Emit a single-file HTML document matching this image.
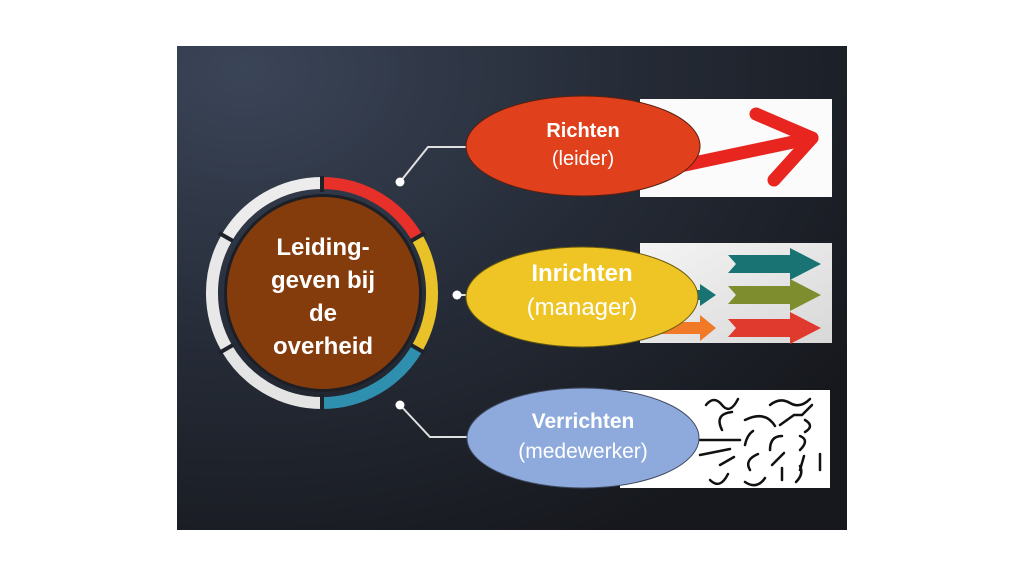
<!DOCTYPE html>
<html><head><meta charset="utf-8"><style>
html,body{margin:0;padding:0;background:#fff;}
body{width:1024px;height:576px;overflow:hidden;font-family:"Liberation Sans",sans-serif;}
</style></head><body>
<svg width="1024" height="576" viewBox="0 0 1024 576" xmlns="http://www.w3.org/2000/svg">
<defs>
<radialGradient id="bg" cx="0.1" cy="0.05" r="1.1">
<stop offset="0" stop-color="#3b4558"/><stop offset="0.5" stop-color="#262c38"/><stop offset="1" stop-color="#16181d"/>
</radialGradient>
<linearGradient id="g2" x1="0" y1="0" x2="1" y2="1"><stop offset="0" stop-color="#f4f4f4"/><stop offset="1" stop-color="#d8d8d8"/></linearGradient>
</defs>
<rect x="177" y="46" width="670" height="484" fill="url(#bg)"/>
<!-- ring -->
<g fill="none" stroke-width="12">
<path d="M322 183 A110 110 0 0 1 417.3 238" stroke="#e8302a"/>
<path d="M417.3 238 A110 110 0 0 1 417.3 348" stroke="#e9c22a"/>
<path d="M417.3 348 A110 110 0 0 1 322 403" stroke="#2f8fae"/>
<path d="M322 403 A110 110 0 0 1 226.7 348" stroke="#e4e4e4"/>
<path d="M226.7 348 A110 110 0 0 1 226.7 238" stroke="#e8e8e8"/>
<path d="M226.7 238 A110 110 0 0 1 322 183" stroke="#ececec"/>
</g>
<g stroke="#1e222b" stroke-width="4">
<line x1="322" y1="176" x2="322" y2="192"/><line x1="322" y1="394" x2="322" y2="410"/>
<line x1="411" y1="241" x2="425" y2="233"/><line x1="411" y1="345" x2="425" y2="353"/>
<line x1="233" y1="241" x2="219" y2="233"/><line x1="233" y1="345" x2="219" y2="353"/>
</g>
<circle cx="323" cy="293" r="99" fill="#1c1f26"/>
<circle cx="323" cy="293" r="96" fill="#843c0c"/>
<g fill="#fff" font-weight="bold" font-size="24" text-anchor="middle">
<text x="323" y="255">Leiding-</text>
<text x="323" y="288">geven bij</text>
<text x="323" y="321">de</text>
<text x="323" y="354">overheid</text>
</g>
<!-- connectors -->
<g stroke="#e0e0e0" stroke-width="2" fill="none">
<polyline points="400,182 428,147 470,147"/>
<line x1="457" y1="295" x2="470" y2="295"/>
<polyline points="400,405 430,437 470,437"/>
</g>
<g fill="#fff"><circle cx="400" cy="182" r="4.5"/><circle cx="457" cy="295" r="4.5"/><circle cx="400" cy="405" r="4.5"/></g>
<!-- panels -->
<rect x="640" y="99" width="192" height="98" fill="#fbfbfb"/>
<path d="M680 166 L812 138" stroke="#e8261f" stroke-width="13" stroke-linecap="round"/>
<path d="M756 114 L812 138 L774 180" stroke="#e8261f" stroke-width="13" fill="none" stroke-linecap="round" stroke-linejoin="round"/>
<rect x="640" y="243" width="192" height="100" fill="url(#g2)"/>
<g>
<polygon points="728,255 790,255 790,248 821,264 790,280 790,273 728,273 736,264" fill="#1a7373"/>
<polygon points="728,286 790,286 790,279 821,295 790,311 790,304 728,304 736,295" fill="#7e8d2e"/>
<polygon points="728,319 790,319 790,312 821,328 790,344 790,337 728,337 736,328" fill="#e03a2e"/>
<polygon points="680,290 700,290 700,284 716,295 700,306 700,300 680,300" fill="#1a7373"/>
<polygon points="660,322 700,322 700,315 716,328 700,341 700,334 660,334" fill="#f07a25"/>
</g>
<rect x="620" y="390" width="210" height="98" fill="#fff"/>
<g stroke="#111" stroke-width="2.5" fill="none" stroke-linecap="round">
<path d="M706 405 q8 -10 16 0 t16 -6"/><path d="M770 405 q10 -8 20 -2 t20 -4"/>
<path d="M722 430 q-8 -16 10 -18"/><path d="M745 420 q20 -10 30 6"/>
<path d="M780 425 l14 -10 l8 0 l10 -10"/><path d="M805 420 q10 6 0 12"/>
<path d="M745 445 q2 -10 8 -14"/><path d="M770 450 q0 -14 12 -14"/><path d="M800 450 q10 -10 0 -14"/>
<path d="M720 465 l14 -8"/><path d="M750 470 q-6 -10 8 -16"/><path d="M772 465 l12 -12"/>
<path d="M800 470 l4 -14"/><path d="M820 470 l0 -16"/>
<path d="M710 480 q10 10 18 -6"/><path d="M745 482 q12 8 20 -4"/><path d="M782 480 l0 -12"/><path d="M796 482 q8 -8 4 -16"/>
<path d="M700 440 l40 0"/><path d="M700 455 l30 -6"/>
</g>
<!-- ellipses -->
<ellipse cx="583" cy="146" rx="117" ry="50" fill="#e0401c" stroke="#5a2010" stroke-width="1"/>
<ellipse cx="582" cy="297" rx="116" ry="50" fill="#eec524" stroke="#6a5a10" stroke-width="1"/>
<ellipse cx="583" cy="438" rx="116" ry="50" fill="#8eaadc" stroke="#404a60" stroke-width="1"/>
<g fill="#fff" text-anchor="middle">
<text x="583" y="137" font-size="20" font-weight="bold">Richten</text>
<text x="583" y="165" font-size="20">(leider)</text>
<text x="582" y="281" font-size="24" font-weight="bold">Inrichten</text>
<text x="582" y="315" font-size="24">(manager)</text>
<text x="583" y="428" font-size="21" font-weight="bold">Verrichten</text>
<text x="583" y="458" font-size="21">(medewerker)</text>
</g>
</svg>
</body></html>
